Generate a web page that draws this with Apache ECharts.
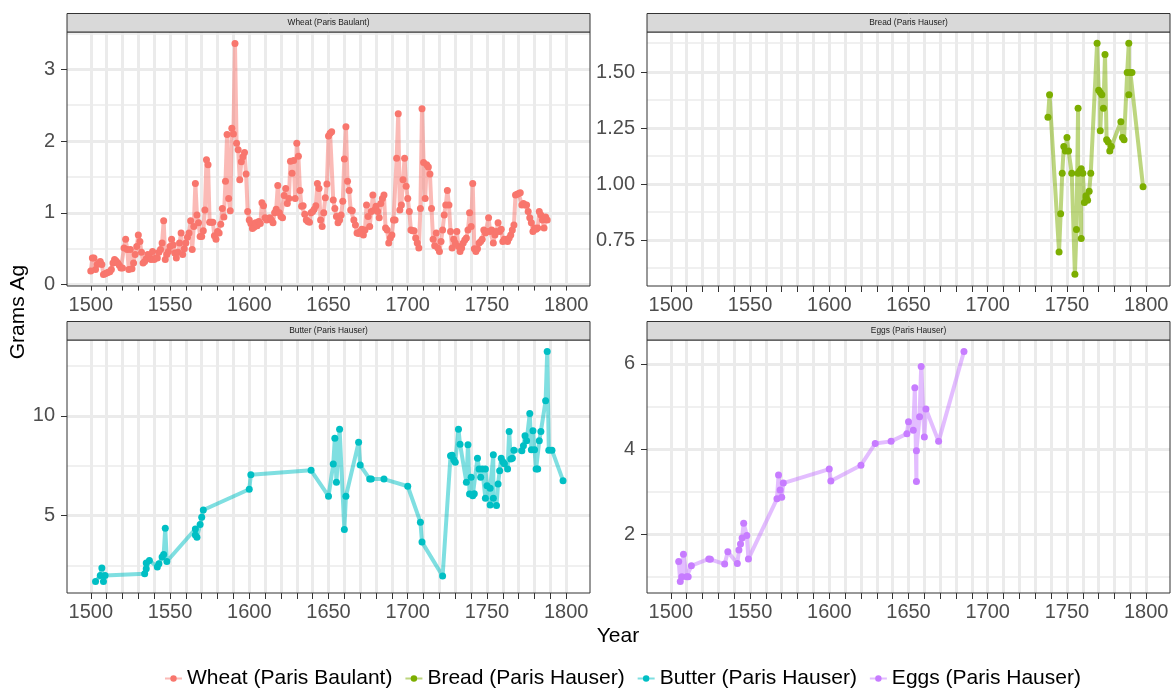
<!DOCTYPE html>
<html><head><meta charset="utf-8">
<script src="https://cdn.jsdelivr.net/npm/echarts@6/dist/echarts.min.js"></script>
<style>html,body{margin:0;padding:0;background:#fff}#c{width:1173px;height:688px}</style>
</head><body><div id="c"></div><script>
// ---------- DATA ----------
const seriesNames = ['Wheat (Paris Baulant)', 'Bread (Paris Hauser)', 'Butter (Paris Hauser)', 'Eggs (Paris Hauser)'];

const wheatFirstYear = 1500;
const wheatValues = [
  0.19,0.37,0.37,0.21,0.28,0.30,0.32,0.28,0.14,0.15,
  0.16,0.17,0.18,0.21,0.30,0.35,0.33,0.30,0.27,0.23,
  0.23,0.51,0.63,0.49,0.21,0.49,0.22,0.30,0.42,0.53,
  0.69,0.60,0.45,0.30,0.32,0.36,0.42,0.39,0.35,0.46,
  0.35,0.37,0.37,0.45,0.49,0.58,0.89,0.35,0.42,0.46,
  0.53,0.63,0.55,0.44,0.37,0.45,0.58,0.72,0.42,0.50,
  0.58,0.66,0.72,0.89,0.49,0.81,1.41,0.97,0.86,0.67,
  0.67,0.75,1.04,1.74,1.67,0.87,0.87,0.87,0.68,0.63,
  0.74,0.72,0.84,1.06,0.94,1.44,2.09,1.20,1.03,2.18,
  2.10,3.36,1.97,1.88,1.46,1.71,1.78,1.84,1.54,1.02,
  0.90,0.85,0.78,0.80,0.86,0.82,0.88,0.85,1.14,1.10,
  0.93,0.90,0.92,0.93,0.90,0.86,1.00,1.05,1.38,1.00,
  0.95,0.93,1.24,1.34,1.13,1.20,1.72,1.55,1.73,1.20,
  1.97,1.79,1.31,1.09,1.10,0.98,0.90,0.88,0.87,1.00,
  1.02,1.05,1.10,1.41,1.34,0.90,0.81,1.00,1.21,1.40,
  2.07,2.11,2.13,1.18,1.06,0.95,0.86,0.90,0.97,1.16,
  1.75,2.20,1.44,1.31,1.04,1.03,0.90,0.83,0.72,0.71,
  0.74,0.77,0.69,0.76,1.11,0.95,0.81,1.02,1.25,1.04,
  1.09,1.02,0.93,1.13,1.20,1.25,0.79,0.76,0.58,0.65,
  0.69,0.90,0.90,1.76,2.38,1.04,1.11,1.46,1.76,1.37,
  1.20,1.02,0.76,0.75,0.75,0.65,0.58,0.51,1.06,2.45,
  1.70,1.20,1.67,1.64,1.54,1.06,0.63,0.54,0.72,0.51,
  0.46,0.60,0.76,0.97,1.11,1.31,1.11,0.74,0.51,0.63,
  0.58,0.74,0.53,0.46,0.51,0.58,0.62,0.65,0.76,1.00,
  0.81,1.41,0.50,0.46,0.50,0.58,0.60,0.63,0.76,0.72,
  0.74,0.93,0.74,0.76,0.58,0.69,0.74,0.86,0.74,0.77,
  0.60,0.63,0.62,0.60,0.65,0.69,0.76,0.83,1.25,1.26,
  1.27,1.28,1.11,1.13,1.11,1.11,1.02,0.93,0.86,0.74,
  0.79,0.77,0.79,1.02,0.97,0.90,0.79,0.94,0.90
];

const breadYears  = [1738,1739,1745,1746,1747,1748,1749,1750,1751,1753,1755,1756,1757,1757,1758,1759,1759,1760,1761,1762,1762,1763,1764,1765,1769,1770,1771,1771,1772,1773,1774,1775,1776,1777,1778,1784,1785,1786,1788,1789,1789,1790,1791,1798];
const breadValues = [1.30,1.40,0.70,0.87,1.05,1.17,1.15,1.21,1.15,1.05,0.60,0.80,1.34,1.05,1.06,0.76,1.07,1.05,0.92,0.94,0.95,0.93,0.97,1.05,1.63,1.42,1.41,1.24,1.40,1.34,1.58,1.20,1.19,1.15,1.17,1.28,1.21,1.20,1.50,1.63,1.40,1.50,1.50,0.99];

const butterYears  = [1503,1506,1507,1508,1509,1534,1535,1535,1537,1542,1543,1545,1546,1547,1548,1566,1566,1567,1569,1570,1571,1600,1601,1639,1650,1653,1654,1655,1657,1660,1661,1669,1670,1676,1677,1685,1700,1708,1709,1722,1727,1728,1729,1730,1732,1733,1737,1738,1739,1740,1741,1742,1744,1745,1746,1747,1749,1749,1750,1752,1752,1754,1754,1756,1757,1758,1759,1760,1761,1763,1764,1765,1766,1767,1772,1773,1774,1775,1777,1778,1779,1780,1781,1782,1783,1784,1787,1788,1789,1791,1798];
const butterValues = [1.70,2.00,2.37,1.70,2.00,2.08,2.62,2.33,2.75,2.42,2.58,2.92,3.05,4.37,2.70,4.33,4.03,3.92,4.55,4.92,5.28,6.32,7.05,7.27,5.97,7.58,8.88,6.67,9.33,4.30,5.97,8.67,7.53,6.83,6.83,6.83,6.47,4.67,3.67,1.97,8.00,8.03,7.80,7.67,9.33,8.58,6.67,8.55,6.08,6.92,6.00,6.10,7.87,7.33,6.92,7.33,5.87,7.33,6.50,5.53,6.37,8.05,5.87,5.50,6.58,7.25,7.87,7.70,7.60,7.33,9.22,7.83,7.87,8.28,8.25,8.50,9.00,8.75,10.12,8.30,9.25,8.30,7.33,7.33,8.75,9.22,10.75,13.22,8.28,8.28,6.75];

const eggsYears  = [1505,1506,1507,1508,1510,1511,1513,1524,1525,1534,1536,1542,1543,1544,1545,1546,1548,1549,1567,1568,1569,1570,1571,1600,1601,1620,1629,1639,1649,1650,1653,1654,1655,1655,1657,1658,1660,1661,1669,1685];
const eggsValues = [1.36,0.89,1.00,1.53,1.00,1.00,1.26,1.42,1.41,1.30,1.59,1.31,1.63,1.77,1.91,2.26,1.97,1.42,2.83,3.39,3.04,2.87,3.20,3.53,3.25,3.62,4.13,4.18,4.36,4.64,4.44,5.44,3.24,3.96,4.76,5.94,4.28,4.94,4.18,6.29];

// axis breaks / tick labels
const xTickYears  = [1500,1510,1520,1530,1540,1550,1560,1570,1580,1590,1600,1610,1620,1630,1640,1650,1660,1670,1680,1690,1700,1710,1720,1730,1740,1750,1760,1770,1780,1790,1800];
const xLabelYears = [1500,1550,1600,1650,1700,1750,1800];
const wheatYTicks = [0,1,2,3];          const wheatYMinor = [0.5,1.5,2.5,3.5];
const breadYTicks = [0.75,1.00,1.25,1.50]; const breadYMinor = [0.625,0.875,1.125,1.375,1.625];
const butterYTicks = [5,10];            const butterYMinor = [2.5,7.5,12.5];
const eggsYTicks = [2,4,6];             const eggsYMinor = [1,3,5];
const xRange = [1485, 1815];
const wheatYRange = [-0.02, 3.52];
const breadYRange = [0.548, 1.68];
const butterYRange = [1.12, 13.8];
const eggsYRange = [0.62, 6.56];

// ---------- LAYOUT ----------
const FONT = '"Liberation Sans", Arial, sans-serif';
const colors = ['#F8766D', '#7CAE00', '#00BFC4', '#C77CFF'];
const PW = 523, STRIP = 18.5;
const layout = [
  {left: 67,  top: 32,  height: 254},
  {left: 647, top: 32,  height: 254},
  {left: 67,  top: 340, height: 253},
  {left: 647, top: 340, height: 253}
];
const pairs = (xs, ys) => xs.map((x, i) => [x, ys[i]]);
const panelData = [
  wheatValues.map((v, i) => [wheatFirstYear + i, v]),
  pairs(breadYears, breadValues),
  pairs(butterYears, butterValues),
  pairs(eggsYears, eggsValues)
];
const yRanges = [wheatYRange, breadYRange, butterYRange, eggsYRange];
const yTicks = [wheatYTicks, breadYTicks, butterYTicks, eggsYTicks];
const yMinor = [wheatYMinor, breadYMinor, butterYMinor, eggsYMinor];
const yFmt = [v => String(v), v => v.toFixed(2), v => String(v), v => String(v)];

const grids = [], xAxes = [], yAxes = [], series = [], graphics = [];
const GRID = '#EBEBEB';
layout.forEach((p, i) => {
  grids.push({left: p.left, top: p.top, width: PW, height: p.height, show: true, z: 20,
    borderColor: '#333333', borderWidth: 1, backgroundColor: 'transparent'});
  xAxes.push({type: 'value', gridIndex: i, min: xRange[0], max: xRange[1],
    axisLine: {show: false}, splitLine: {show: false},
    axisTick: {show: true, customValues: xTickYears, length: 6, lineStyle: {color: '#333333', width: 1}},
    axisLabel: {customValues: xLabelYears, formatter: v => String(v), fontSize: 20, color: '#4D4D4D', margin: 9, fontFamily: FONT}});
  yAxes.push({type: 'value', gridIndex: i, min: yRanges[i][0], max: yRanges[i][1],
    axisLine: {show: false}, splitLine: {show: false},
    axisTick: {show: true, customValues: yTicks[i], length: 6, lineStyle: {color: '#333333', width: 1}},
    axisLabel: {customValues: yTicks[i], formatter: yFmt[i], fontSize: 20, color: '#4D4D4D', margin: 12, fontFamily: FONT}});
  const ml = [];
  xTickYears.forEach(v => ml.push({xAxis: v, lineStyle: {color: GRID, width: 3, type: 'solid', opacity: 1}}));
  yTicks[i].forEach(v => ml.push({yAxis: v, lineStyle: {color: GRID, width: 3, type: 'solid', opacity: 1}}));
  yMinor[i].forEach(v => ml.push({yAxis: v, lineStyle: {color: GRID, width: 1.5, type: 'solid', opacity: 1}}));
  series.push({type: 'line', xAxisIndex: i, yAxisIndex: i, data: panelData[i], symbol: 'none',
    lineStyle: {opacity: 0}, silent: true, z: 1, animation: false,
    markLine: {silent: true, symbol: ['none', 'none'], label: {show: false}, animation: false,
      emphasis: {disabled: true}, data: ml}});
  series.push({type: 'line', name: seriesNames[i], xAxisIndex: i, yAxisIndex: i, data: panelData[i],
    symbol: 'circle', symbolSize: 7, showSymbol: true, z: 10, animation: false,
    itemStyle: {color: colors[i], opacity: 1},
    lineStyle: {color: colors[i], width: 4, opacity: 0.5},
    emphasis: {disabled: true}});
  graphics.push({type: 'rect', z: 30, shape: {x: p.left, y: p.top - STRIP, width: PW, height: STRIP},
    style: {fill: '#D9D9D9', stroke: '#333333', lineWidth: 1}});
  graphics.push({type: 'text', z: 31, x: p.left + PW / 2, y: p.top - STRIP / 2,
    style: {text: seriesNames[i], fill: '#1A1A1A', font: '8.4px ' + FONT, align: 'center', verticalAlign: 'middle'}});
});
graphics.push({type: 'text', x: 18, y: 312, rotation: Math.PI / 2,
  style: {text: 'Grams Ag', fill: '#000000', font: '21px ' + FONT, align: 'center', verticalAlign: 'middle'}});
graphics.push({type: 'text', x: 618, y: 636,
  style: {text: 'Year', fill: '#000000', font: '21px ' + FONT, align: 'center', verticalAlign: 'middle'}});

const chart = echarts.init(document.getElementById('c'), null, {renderer: 'canvas'});
chart.setOption({
  animation: false,
  backgroundColor: '#ffffff',
  grid: grids, xAxis: xAxes, yAxis: yAxes, series: series,
  legend: {data: seriesNames, left: 164, top: 668, padding: 0, itemWidth: 17, itemHeight: 8, itemGap: 12,
    textStyle: {fontSize: 21, color: '#000000', fontFamily: FONT}},
  graphic: graphics
});
</script></body></html>
